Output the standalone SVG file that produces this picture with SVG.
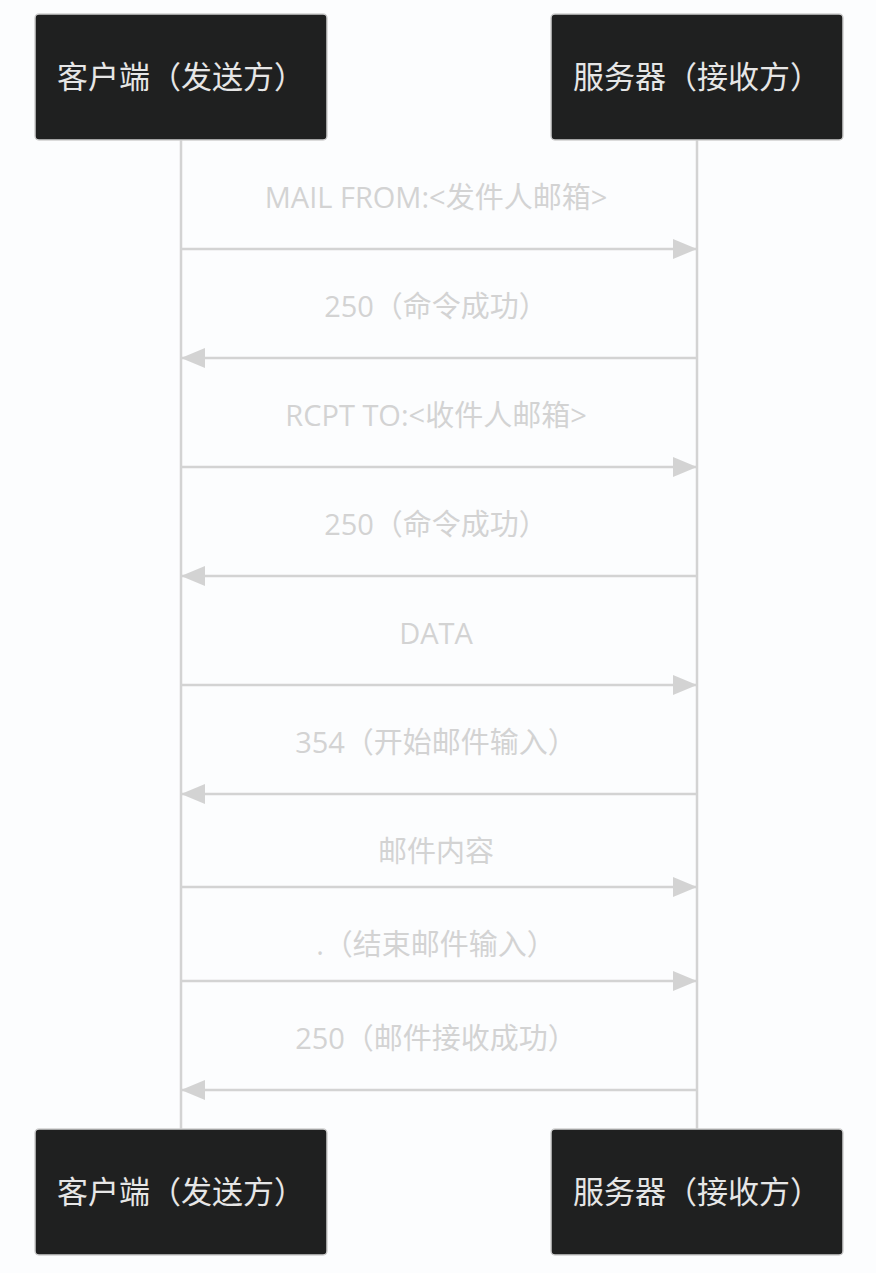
<svg xmlns="http://www.w3.org/2000/svg" width="876" height="1273" viewBox="0 0 876 1273">
<style>
.bg{fill:#fcfdfe}
.actor rect{fill:#1f2020;stroke:#cfcfcf;stroke-width:1.5}
.actor text{fill:#e6e6e6;font-family:"Open Sans","Noto Sans CJK SC",sans-serif;font-size:31px;text-anchor:middle;dominant-baseline:central}
.life{stroke:#d3d3d3;stroke-width:2.5;fill:none}
.msg{stroke:#d3d3d3;stroke-width:2.5;fill:none}
.lbl{fill:#d3d3d3;font-family:"Open Sans","Noto Sans CJK SC",sans-serif;font-size:29px;text-anchor:middle;dominant-baseline:central}
</style>
<defs>
<marker id="ah" viewBox="0 0 24 20" refX="23" refY="10" markerWidth="24" markerHeight="20" markerUnits="userSpaceOnUse" orient="auto">
<path d="M0,0 L24,10 L0,20 Z" fill="#d3d3d3"/>
</marker>
</defs>
<rect class="bg" x="0" y="0" width="876" height="1273"/>
<g id="lifelines">
<line class="life" x1="181" y1="140" x2="181" y2="1129"/>
<line class="life" x1="697" y1="140" x2="697" y2="1129"/>
</g>
<g id="client-top" class="actor"><rect x="35" y="14" width="292" height="126" rx="4"/><text x="181" y="76">客户端（发送方）</text></g>
<g id="server-top" class="actor"><rect x="551" y="14" width="292" height="126" rx="4"/><text x="697" y="76">服务器（接收方）</text></g>
<g id="client-bottom" class="actor"><rect x="35" y="1129" width="292" height="126" rx="4"/><text x="181" y="1191">客户端（发送方）</text></g>
<g id="server-bottom" class="actor"><rect x="551" y="1129" width="292" height="126" rx="4"/><text x="697" y="1191">服务器（接收方）</text></g>
<g id="connectors">
<line class="msg" x1="181" y1="249" x2="696" y2="249" marker-end="url(#ah)"/>
<line class="msg" x1="697" y1="358" x2="182" y2="358" marker-end="url(#ah)"/>
<line class="msg" x1="181" y1="467" x2="696" y2="467" marker-end="url(#ah)"/>
<line class="msg" x1="697" y1="576" x2="182" y2="576" marker-end="url(#ah)"/>
<line class="msg" x1="181" y1="685" x2="696" y2="685" marker-end="url(#ah)"/>
<line class="msg" x1="697" y1="794" x2="182" y2="794" marker-end="url(#ah)"/>
<line class="msg" x1="181" y1="887" x2="696" y2="887" marker-end="url(#ah)"/>
<line class="msg" x1="181" y1="981" x2="696" y2="981" marker-end="url(#ah)"/>
<line class="msg" x1="697" y1="1090" x2="182" y2="1090" marker-end="url(#ah)"/>
</g>
<g id="labels">
<text class="lbl" x="436" y="196">MAIL FROM:&lt;发件人邮箱&gt;</text>
<text class="lbl" x="436" y="305">250（命令成功）</text>
<text class="lbl" x="436" y="414">RCPT TO:&lt;收件人邮箱&gt;</text>
<text class="lbl" x="436" y="523">250（命令成功）</text>
<text class="lbl" x="436" y="632">DATA</text>
<text class="lbl" x="436" y="741">354（开始邮件输入）</text>
<text class="lbl" x="436" y="850">邮件内容</text>
<text class="lbl" x="436" y="943">.（结束邮件输入）</text>
<text class="lbl" x="436" y="1037">250（邮件接收成功）</text>
</g>
</svg>
